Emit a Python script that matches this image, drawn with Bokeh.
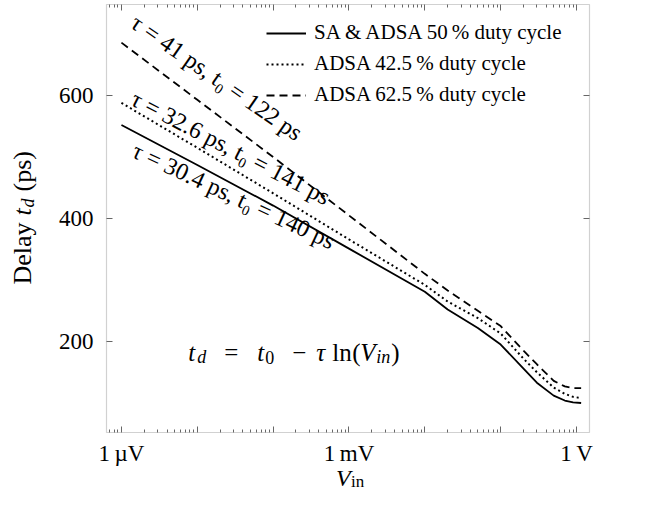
import math
from bokeh.plotting import figure
from bokeh.models import (FixedTicker, LogAxis, LinearAxis, Label, Legend,
                          LegendItem, Range1d, CustomJSTickFormatter, BoxAnnotation)
from bokeh.embed import file_html
from bokeh.resources import INLINE

# ---------------- data ----------------
vin = [1e-6, 1e-5, 1e-4, 1e-3, 1e-2, 2e-2, 5e-2, 0.1, 0.2, 0.3, 0.5, 0.7, 0.9, 1.15]
delay_50 = [552, 487, 421, 351, 281, 252, 222, 195, 156, 133, 112, 104, 101, 100]
delay_425 = [588, 515, 441, 366, 292, 265, 238, 213, 172, 150, 125, 115, 110, 108]
delay_625 = [686, 593, 500, 405, 310, 283, 250, 225, 185, 163, 136, 127, 124, 124]

legend_labels = ["SA & ADSA 50\u2009% duty cycle",
                 "ADSA 42.5\u2009% duty cycle",
                 "ADSA 62.5\u2009% duty cycle"]
fit_labels = ["\u03c4 = 30.4 ps, t\u2080 = 140 ps",
              "\u03c4 = 32.6 ps, t\u2080 = 141 ps",
              "\u03c4 = 41 ps, t\u2080 = 122 ps"]

# axis box limits
X_LO, X_HI = 10 ** -6.197, 10 ** 0.171
Y_LO, Y_HI = 52, 748

x_decades = [1e-6, 1e-5, 1e-4, 1e-3, 1e-2, 1e-1, 1.0]
x_minor_all = [m * d for d in [1e-7] + x_decades for m in range(2, 10)]
x_minor = [t for t in x_minor_all if X_LO <= t <= X_HI]
x_label_ticks = [1e-6, 1e-3, 1.0]
x_label_texts = ["1\u2009\u00b5V", "1\u2009mV", "1\u2009V"]
y_ticks = [200, 400, 600]

FONT = "Liberation Serif"
AX = "#666666"

# canvas geometry: the frame fills the whole canvas; axes sit at fixed places
W, H = 632, 496
BOX_L, BOX_R, BOX_T, BOX_B = 106, 589, 4, 432
dec_px = (BOX_R - BOX_L) / (math.log10(X_HI) - math.log10(X_LO))
unit_px = (BOX_B - BOX_T) / (Y_HI - Y_LO)
x_start = 10 ** (math.log10(X_LO) - BOX_L / dec_px)
x_end = 10 ** (math.log10(X_HI) + (W - BOX_R) / dec_px)
y_start = Y_LO - (H - BOX_B) / unit_px
y_end = Y_HI + BOX_T / unit_px

p = figure(width=W, height=H, x_axis_type="log",
           x_range=Range1d(x_start, x_end), y_range=Range1d(y_start, y_end),
           output_backend="svg", toolbar_location=None,
           x_axis_location=None, y_axis_location=None,
           min_border_left=0, min_border_right=0, min_border_top=0,
           min_border_bottom=0)
p.xgrid.visible = False
p.ygrid.visible = False
p.outline_line_color = None
p.background_fill_color = "white"
p.border_fill_color = "white"


def style_axis(ax, show):
    ax.axis_line_color = None
    ax.major_tick_line_color = AX
    ax.minor_tick_line_color = AX
    ax.major_tick_line_width = 1
    ax.minor_tick_line_width = 1
    ax.major_tick_in = 6
    ax.major_tick_out = 0
    ax.minor_tick_in = 3
    ax.minor_tick_out = 0
    ax.major_label_text_font = FONT
    ax.major_label_text_color = "black"
    if show:
        ax.major_label_text_font_size = "23px"
    else:
        ax.major_label_text_font_size = "2px"
        ax.major_label_standoff = 0
        ax.formatter = CustomJSTickFormatter(code='return "";')


fmt = CustomJSTickFormatter(args=dict(t=x_label_ticks, s=x_label_texts), code="""
for (let i = 0; i < t.length; i++) {
  if (Math.abs(Math.log10(tick) - Math.log10(t[i])) < 1e-6) return s[i];
}
return "";
""")

bottom = LogAxis(ticker=FixedTicker(ticks=x_decades, minor_ticks=x_minor),
                 formatter=fmt, fixed_location=Y_LO)
style_axis(bottom, True)
bottom.major_label_standoff = 8
p.add_layout(bottom, "below")

top = LogAxis(ticker=FixedTicker(ticks=x_decades, minor_ticks=x_minor),
              fixed_location=Y_HI)
style_axis(top, False)
p.add_layout(top, "above")

left = LinearAxis(ticker=FixedTicker(ticks=y_ticks, minor_ticks=[]),
                  fixed_location=X_LO)
style_axis(left, True)
left.major_label_standoff = 13
p.add_layout(left, "left")

right = LinearAxis(ticker=FixedTicker(ticks=y_ticks, minor_ticks=[]),
                   fixed_location=X_HI)
style_axis(right, False)
p.add_layout(right, "right")

p.add_layout(BoxAnnotation(left=X_LO, right=X_HI, bottom=Y_LO, top=Y_HI,
                           fill_alpha=0, line_color=AX, line_width=1.2,
                           level="underlay"))

r50 = p.line(vin, delay_50, line_color="black", line_width=1.8)
r425 = p.line(vin, delay_425, line_color="black", line_width=2, line_dash="2 3")
r625 = p.line(vin, delay_625, line_color="black", line_width=1.8, line_dash="8 5")

legend = Legend(items=[LegendItem(label=legend_labels[0], renderers=[r50]),
                       LegendItem(label=legend_labels[1], renderers=[r425]),
                       LegendItem(label=legend_labels[2], renderers=[r625])],
                location=(266, 389))
legend.border_line_color = None
legend.background_fill_alpha = 0
legend.label_text_font = FONT
legend.label_text_font_size = "21px"
legend.label_text_color = "black"
legend.glyph_width = 40
legend.glyph_height = 24
legend.label_height = 24
legend.label_standoff = 8
legend.spacing = 6
legend.margin = 0
legend.padding = 0
p.add_layout(legend)


def lab(x, y, text, xo=0, yo=0, size="23px", style="normal", angle=0.0,
        align="left", baseline="alphabetic"):
    p.add_layout(Label(x=x, y=y, text=text,
                       x_offset=xo, y_offset=yo, text_font=FONT,
                       text_font_size=size, text_font_style=style, angle=angle,
                       text_align=align, text_baseline=baseline,
                       text_color="black"))


# fit labels along the curves
deg = math.pi / 180
lab(3.02e-5, 437, fit_labels[0], angle=-25 * deg, align="center", baseline="middle", size="24px")
lab(2.76e-5, 515, fit_labels[1], angle=-27.4 * deg, align="center", baseline="middle", size="24px")
lab(1.81e-5, 613, fit_labels[2], yo=10, angle=-34.7 * deg, align="center", baseline="middle", size="24px")

# formula  t_d = t_0 - tau ln(V_in)
fx, fy = 1e-5, 200
M, S = "25px", "18px"
pieces = [(-9, "t", "italic", M, -11), (0, "d", "italic", S, -16),
          (27, "=", "normal", M, -11), (60, "t", "italic", M, -11),
          (68, "0", "normal", S, -16), (95, "\u2212", "normal", M, -11),
          (119, "\u03c4", "italic", M, -11), (135, "ln", "normal", M, -11),
          (155, "(", "normal", M, -11), (163, "V", "italic", M, -11),
          (179, "in", "italic", S, -16), (194, ")", "normal", M, -11)]
for xo, t, st, sz, yo in pieces:
    lab(fx, fy, t, xo=xo, yo=yo, size=sz, style=st)

# y axis label: Delay t_d (ps)
yx = 10 ** -7.3
R = math.pi / 2
lab(yx, 400, "Delay", yo=-66, angle=R, size="26px")
lab(yx, 400, "t", yo=3, angle=R, style="italic", size="26px")
lab(yx, 400, "d", xo=5, yo=11, angle=R, style="italic", size="18px")
lab(yx, 400, "(ps)", yo=27, angle=R, size="26px")

# x axis label: V_in
lab(1e-3, Y_LO, "V", xo=-13, yo=-45, style="italic", size="24px")
lab(1e-3, Y_LO, "in", xo=2, yo=-49, size="17px")

open("out.html", "w").write(file_html(p, INLINE))
